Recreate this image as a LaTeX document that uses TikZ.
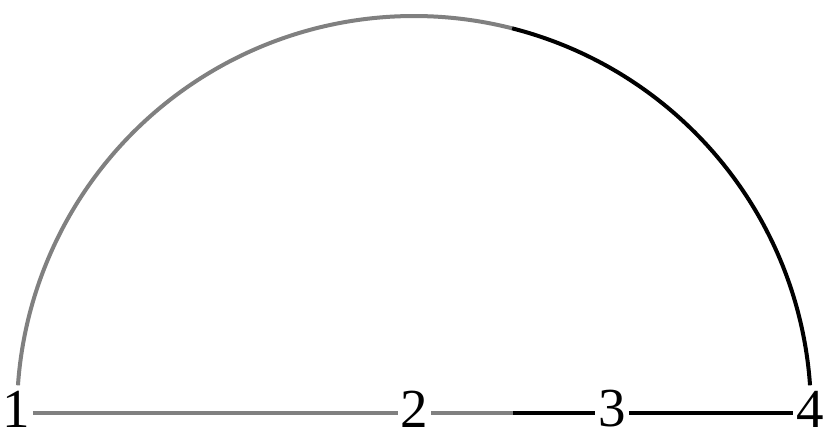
\documentclass[tikz,border=0pt]{standalone}
\usepackage{fontspec}
\setmainfont{Liberation Serif}
\begin{document}
\begin{tikzpicture}[x=1pt,y=1pt,
  lab/.style={inner sep=3pt, font=\fontsize{55}{60}\selectfont},
  seg/.style={line width=4pt}]
\useasboundingbox (0,0) rectangle (830,442);
\node[lab] (n1) at (16,33) {1};
\node[lab] (n2) at (414.5,33) {2};
\node[lab] (n3) at (612,33) {3};
\node[lab] (n4) at (810,33) {4};
\coordinate (c) at (414,29);
\coordinate (m) at (513,29);
\draw[seg,gray] ([yshift=-4pt]n1.east) -- ([yshift=-4pt]n2.west);
\draw[seg,gray] ([yshift=-4pt]n2.east) -- (m);
\draw[seg,black] (m) -- ([yshift=-4pt]n3.west);
\draw[seg,black] ([yshift=-4pt]n3.east) -- ([yshift=-4pt]n4.west);
\draw[seg,gray] (c) ++(176:397) arc[start angle=176,end angle=75.7,radius=397] coordinate (t);
\draw[seg,black] (t) arc[start angle=75.7,end angle=4,radius=397];
\end{tikzpicture}
\end{document}
